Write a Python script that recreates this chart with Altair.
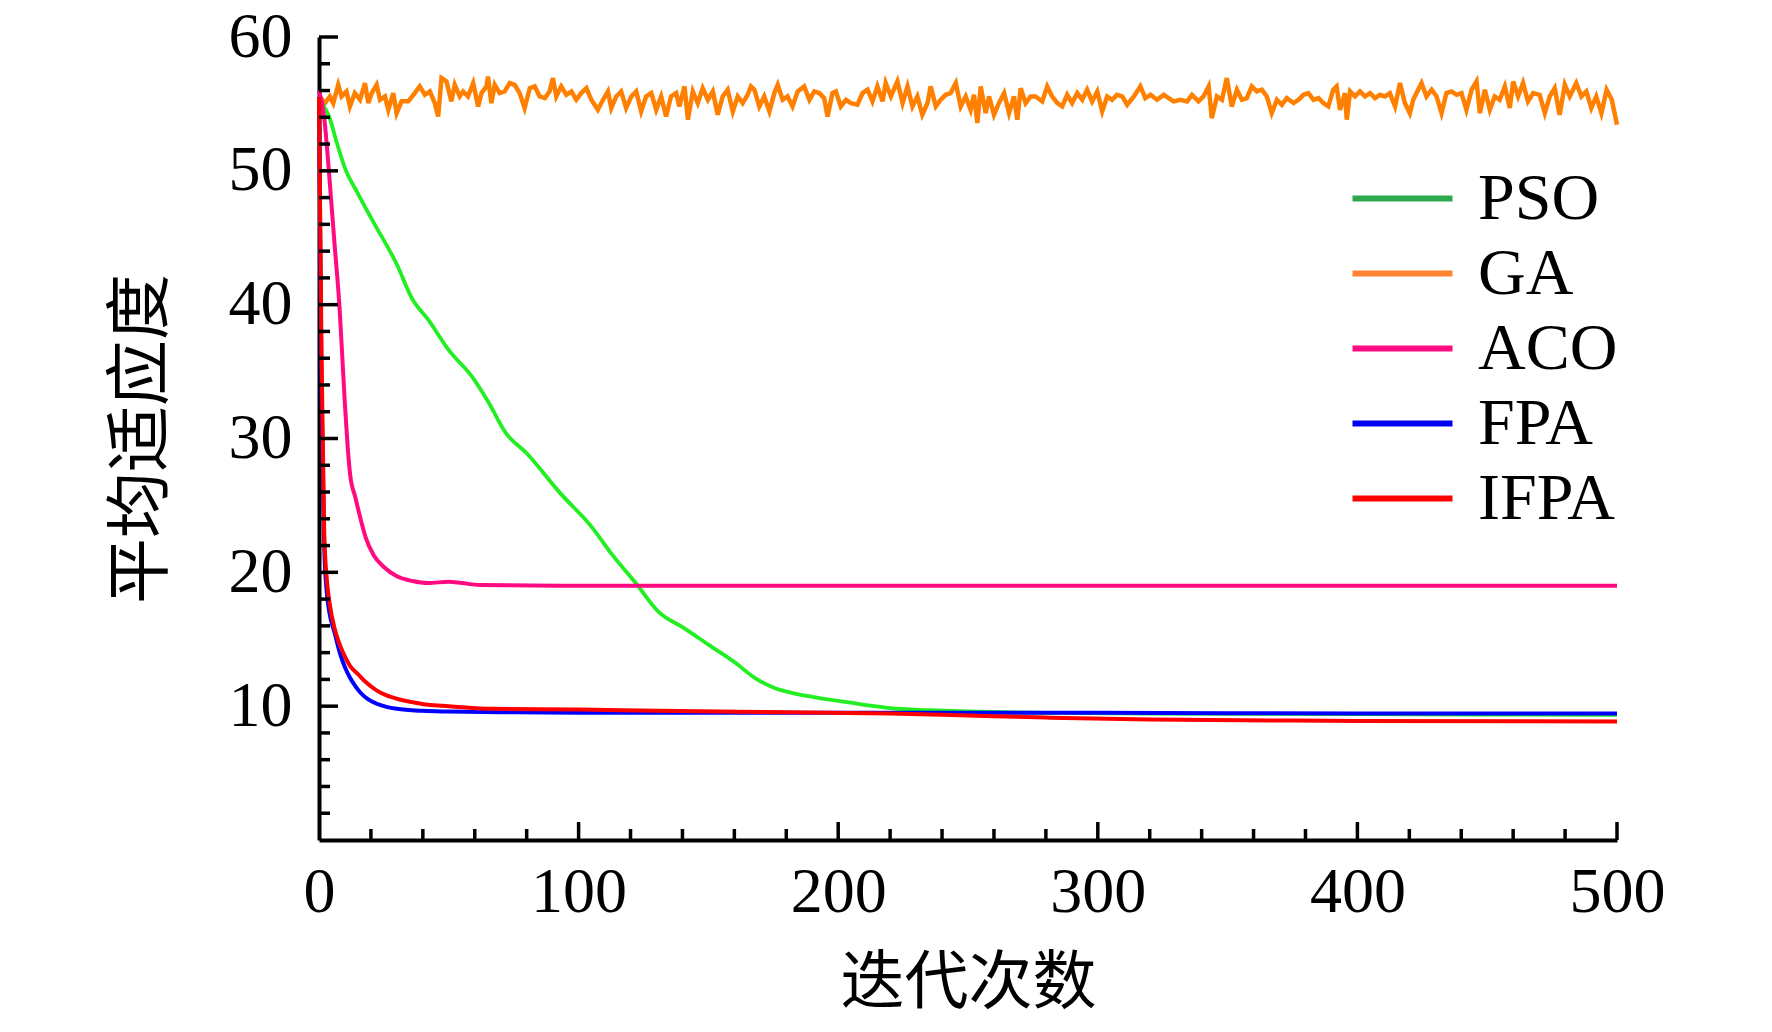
import altair as alt
import pandas as pd

# ---------------- data ----------------
series_names = ["PSO", "GA", "ACO", "FPA", "IFPA"]
line_colors = ["#22ee22", "#ff8000", "#ff0a80", "#0000ff", "#ff0000"]
legend_colors = ["#2ca94a", "#ff8431", "#ff0a80", "#0000f0", "#ff0000"]

pso_x = [0, 2, 4, 7, 10, 15, 20, 30, 36, 42, 50, 59, 65, 72, 80, 93, 105, 113, 122, 131,
         140, 150, 160, 168, 175, 182, 190, 200, 210, 220, 235, 250, 280, 320, 400, 500]
pso_y = [55.5, 54.8, 54.0, 52.0, 50.2, 48.3, 46.5, 43.0, 40.4, 38.9, 36.6, 34.6, 32.8, 30.4,
         28.9, 25.9, 23.4, 21.3, 19.2, 17.0, 15.9, 14.6, 13.3, 12.1, 11.4, 11.0, 10.7, 10.4,
         10.1, 9.85, 9.7, 9.6, 9.5, 9.45, 9.4, 9.35]

aco_x = [0, 2, 4, 6, 8, 9, 10, 11, 12, 14, 16, 18, 21, 25, 30, 36, 42, 50, 55, 62, 100,
         200, 300, 400, 500]
aco_y = [56.0, 54.0, 49.5, 44.5, 39.5, 36.0, 32.5, 29.5, 27.3, 25.6, 24.0, 22.6, 21.3, 20.4,
         19.7, 19.35, 19.2, 19.3, 19.2, 19.05, 19.0, 19.0, 19.0, 19.0, 19.0]

fpa_x = [0, 1, 2, 3, 4, 6, 8, 10, 12, 14, 16, 19, 22, 26, 30, 40, 50, 70, 100, 200, 300,
         400, 500]
fpa_y = [55.5, 33.0, 22.0, 18.5, 17.0, 15.5, 14.0, 12.9, 12.1, 11.5, 11.0, 10.5, 10.2, 9.95,
         9.8, 9.65, 9.6, 9.55, 9.5, 9.5, 9.5, 9.45, 9.45]

ifpa_x = [0, 1, 2, 3, 4, 6, 8, 10, 12, 15, 18, 22, 26, 31, 36, 42, 50, 67, 100, 131, 180,
          220, 250, 280, 320, 400, 500]
ifpa_y = [55.5, 36.0, 23.0, 19.5, 17.8, 15.8, 14.6, 13.7, 13.0, 12.4, 11.8, 11.2, 10.8,
          10.5, 10.3, 10.1, 10.0, 9.8, 9.75, 9.65, 9.55, 9.45, 9.3, 9.15, 9.0, 8.9, 8.85]

ga_x = [0, 2.3, 4.2, 5.5, 7.4, 8.7, 10.6, 11.9, 13.8, 15.8, 17.7, 19.0, 20.3, 22.2, 23.5,
        25.4, 26.7, 28.6, 29.9, 31.8, 34.4, 36.9, 38.8, 40.8, 42.7, 44.6, 45.9, 47.2, 49.1,
        51.0, 52.3, 54.2, 55.5, 57.4, 59.4, 61.3, 62.6, 64.5, 65.1, 66.4, 67.7, 69.6, 71.5,
        73.5, 75.4, 77.3, 79.2, 81.2, 83.1, 85.0, 87.0, 88.8, 90.1, 91.4, 93.3, 95.3, 97.2,
        99.1, 101.0, 103.0, 104.9, 107.4, 109.4, 111.3, 112.6, 114.5, 116.4, 118.3, 120.3,
        122.2, 124.1, 126.0, 128.0, 129.9, 131.8, 133.7, 135.6, 137.6, 138.8, 140.8, 142.1,
        144.0, 145.9, 147.8, 149.8, 151.7, 153.6, 155.5, 157.4, 159.4, 161.3, 163.2, 165.1,
        166.4,
        167.7, 169.6, 171.5, 173.5, 175.4, 176.7, 178.6, 180.5, 182.4, 184.4, 186.9, 188.9,
        190.8, 192.7, 194.6, 195.9, 197.8, 199.1, 201.0, 203.0, 204.9, 207.4, 209.4, 211.3,
        213.2, 215.1, 217.1, 218.3, 220.3, 222.8, 224.8, 226.7, 228.6, 230.5, 232.4, 234.4,
        235.6, 237.6, 239.5, 241.4, 243.3, 245.3, 247.2, 249.1, 251.0, 252.3, 253.6, 254.9,
        256.8, 258.1, 260.0, 261.9, 263.9, 265.8, 267.7, 269.0, 270.3, 272.2, 274.1, 276.0,
        278.6, 280.5, 282.4, 284.4, 286.3, 288.2, 290.1, 292.1, 294.0, 295.9, 297.8, 299.8,
        301.7, 303.6, 305.5, 307.4, 309.4, 311.3, 313.9, 316.4, 318.3, 320.3, 322.8, 325.4,
        327.3, 329.2, 331.8, 334.4, 336.3,
        338.8, 340.7, 342.7, 343.9, 345.9, 347.8, 349.7, 351.6, 353.6, 355.5, 357.4, 359.3,
        361.3, 363.2, 365.1, 367.0, 369.0, 370.9, 372.8, 375.4, 377.3, 379.2, 381.1, 383.1,
        385.0, 386.9, 388.8, 390.7, 392.0, 393.3, 395.2, 395.9, 397.2, 399.1, 401.0, 402.9,
        404.9, 406.8, 408.7, 410.6, 412.5, 414.5, 416.4, 418.3, 420.2, 421.5, 423.4, 424.7,
        426.6, 428.6, 430.5, 432.4, 434.3, 436.3, 438.2, 440.1, 442.0, 444.0, 445.9, 447.2,
        449.1, 451.0, 452.9, 454.8, 456.8, 458.7, 460.0, 461.9, 463.8, 465.7, 467.7, 470.2,
        472.2, 474.1, 476.0, 477.9, 479.9, 481.8, 484.3, 486.3, 488.2, 490.1, 492.0, 494.0,
        496.0, 498.0, 500.0]
ga_y = [55.6, 55.06, 55.56, 55.06, 56.43, 55.56, 55.93, 54.81, 55.81, 55.31, 56.56, 55.06,
        55.81, 56.43, 55.31, 55.56, 54.56, 55.81, 54.31, 55.19, 55.19, 55.81, 56.31, 55.68,
        55.93, 55.06, 54.06, 56.93, 56.68, 55.19, 56.43, 55.56, 55.93, 55.56, 56.56, 54.81,
        55.81, 56.31, 57.05, 55.06, 56.43, 55.81, 55.93, 56.56, 56.43, 55.81, 54.69, 56.18,
        56.31, 55.56, 55.43, 55.93, 56.93, 55.56, 56.31, 55.68, 55.93, 55.31, 55.81, 56.18,
        55.31, 54.56, 55.31, 55.93, 54.69, 55.56, 55.93, 54.69, 55.56, 55.93, 54.44, 55.56,
        55.81, 54.56, 55.56, 54.06, 55.56, 55.81, 54.81, 56.31, 53.82, 55.93, 55.06, 56.18,
        55.31, 55.93, 54.19, 55.56, 56.06, 54.44, 55.56, 55.06, 55.68, 56.31,
        56.06, 54.81, 55.56, 54.44, 55.81, 56.43, 55.31, 55.56, 54.81, 55.93, 56.31, 55.31,
        55.93, 55.81, 55.43, 54.06, 55.81, 55.93, 54.81, 55.31, 55.06, 54.94, 55.81, 56.06,
        55.19, 56.31, 55.19, 56.56, 55.56, 56.68, 55.06, 56.31, 54.81, 55.56, 54.19, 55.06,
        56.31, 54.81, 55.31, 55.68, 55.81, 56.56, 54.81, 55.56, 54.56, 55.68, 53.57, 56.31,
        54.31, 55.56, 54.19, 55.06, 55.81, 54.31, 55.56, 53.82, 56.18, 55.06, 55.56, 55.56,
        55.19, 56.31, 55.56, 55.06, 54.81, 55.68, 55.06, 55.81, 55.31, 56.06, 55.19, 55.93,
        54.44, 55.56, 55.31, 55.68, 55.56, 54.94, 55.56, 56.31, 55.43, 55.68, 55.31, 55.68,
        55.43, 55.19, 55.31, 55.19, 55.68,
        55.19, 55.56, 56.31, 53.94, 55.56, 55.31, 56.93, 54.81, 56.06, 55.31, 55.43, 56.31,
        55.93, 56.06, 55.56, 54.31, 55.31, 54.94, 55.43, 55.06, 55.31, 55.68, 55.81, 55.31,
        55.43, 55.06, 54.81, 56.06, 56.31, 54.56, 55.81, 53.82, 55.93, 55.56, 55.93, 55.56,
        55.81, 55.43, 55.68, 55.56, 55.81, 54.81, 56.56, 55.06, 54.31, 55.31, 56.06, 56.56,
        55.56, 56.06, 55.56, 54.31, 55.81, 55.93, 55.68, 55.81, 54.56, 56.06, 56.68, 54.31,
        56.06, 54.56, 55.56, 55.31, 56.31, 54.69, 56.68, 55.56, 56.56, 55.19, 55.81, 55.68,
        54.31, 55.56, 56.18, 54.19, 56.43, 55.56, 56.56, 55.56, 55.93, 54.69, 55.56, 54.31,
        56.06, 55.31, 53.44]

x_major_ticks = [100, 200, 300, 400, 500]
x_minor_ticks = [20, 40, 60, 80, 120, 140, 160, 180, 220, 240, 260, 280,
                 320, 340, 360, 380, 420, 440, 460, 480]
y_major_ticks = [10, 20, 30, 40, 50, 60]
y_minor_ticks = [2, 4, 6, 8, 12, 14, 16, 18, 22, 24, 26, 28, 32, 34, 36, 38,
                 42, 44, 46, 48, 52, 54, 56, 58]
x_labels = [0, 100, 200, 300, 400, 500]
y_labels = [10, 20, 30, 40, 50, 60]

# ---------------- tables ----------------
series_xy = {
    "PSO": (pso_x, pso_y),
    "GA": (ga_x, ga_y),
    "ACO": (aco_x, aco_y),
    "FPA": (fpa_x, fpa_y),
    "IFPA": (ifpa_x, ifpa_y),
}
frames = {}
for name, (xs, ys) in series_xy.items():
    frames[name] = pd.DataFrame({"iter": xs, "fit": ys, "alg": name})
all_df = pd.concat(frames.values(), ignore_index=True)

W, H = 1298, 803
SERIF = "Liberation Serif"
CJK = "Noto Sans CJK SC"

x_scale = alt.Scale(domain=[0, 500], nice=False, zero=False)
y_scale = alt.Scale(domain=[0, 60], nice=False, zero=False)

x_axis = alt.Axis(values=x_labels, title="迭代次数", grid=False, ticks=False,
                  domainColor="black", domainWidth=4, labelFont=SERIF, labelFontSize=64,
                  labelColor="black", labelPadding=20, labelFlush=False,
                  titleFont=CJK, titleFontSize=64, titleFontWeight="normal",
                  titleColor="black", titleX=W / 2, titleY=143, titleBaseline="middle",
                  titleAlign="center")
y_axis = alt.Axis(values=y_labels, title="平均适应度", grid=False, ticks=False,
                  domainColor="black", domainWidth=4, labelFont=SERIF, labelFontSize=64,
                  labelColor="black", labelPadding=27, labelFlush=False,
                  titleFont=CJK, titleFontSize=66, titleFontWeight="normal",
                  titleColor="black", titleAngle=270, titleX=-178, titleY=H / 2,
                  titleBaseline="middle", titleAlign="center")


def X(field):
    return alt.X(field, scale=x_scale, axis=x_axis)


def Y(field):
    return alt.Y(field, scale=y_scale, axis=y_axis)


order = ["GA", "PSO", "ACO", "FPA", "IFPA"]
widths = {"GA": 4.5, "PSO": 3.8, "ACO": 4, "FPA": 4, "IFPA": 4}
layers = []
for name in order:
    c = line_colors[series_names.index(name)]
    interp = "linear" if name == "GA" else "monotone"
    layers.append(
        alt.Chart(frames[name]).mark_line(color=c, strokeWidth=widths[name],
                                          interpolate=interp).encode(
            x=X("iter:Q"), y=Y("fit:Q"), order=alt.Order("iter:Q"))
    )

# legend layer (invisible lines, visible legend)
legend_layer = alt.Chart(all_df).mark_line(opacity=0).encode(
    x=X("iter:Q"),
    y=Y("fit:Q"),
    color=alt.Color("alg:N",
                    scale=alt.Scale(domain=series_names, range=legend_colors),
                    sort=series_names,
                    legend=alt.Legend(title=None, orient="none", legendX=1047,
                                      legendY=125, symbolType="M-1.5,0H1.5",
                                      symbolSize=4444, symbolStrokeWidth=6,
                                      symbolOpacity=1, labelFont=SERIF,
                                      labelFontSize=66, labelColor="black",
                                      labelOffset=39, rowPadding=5, padding=0,
                                      labelLimit=400)),
)

# inward tick marks
x_ticks_major = alt.Chart(pd.DataFrame({"iter": x_major_ticks})).mark_rule(
    color="black", strokeWidth=3.5).encode(
    x=X("iter:Q"), y=alt.value(H), y2=alt.value(H - 18))
x_ticks_minor = alt.Chart(pd.DataFrame({"iter": x_minor_ticks})).mark_rule(
    color="black", strokeWidth=3.5).encode(
    x=X("iter:Q"), y=alt.value(H), y2=alt.value(H - 11))
y_ticks_major = alt.Chart(pd.DataFrame({"fit": y_major_ticks})).mark_rule(
    color="black", strokeWidth=3.5).encode(
    y=Y("fit:Q"), x=alt.value(0), x2=alt.value(19))
y_ticks_minor = alt.Chart(pd.DataFrame({"fit": y_minor_ticks})).mark_rule(
    color="black", strokeWidth=3.5).encode(
    y=Y("fit:Q"), x=alt.value(0), x2=alt.value(11))

chart = alt.layer(
    *layers, legend_layer, x_ticks_major, x_ticks_minor, y_ticks_major, y_ticks_minor
).resolve_scale(color="independent").properties(
    width=W, height=H,
    autosize=alt.AutoSizeParams(type="none"),
    padding={"left": 311, "top": 29, "right": 140, "bottom": 184},
    background="white",
).configure_view(stroke=None)

chart.save("out.html", embed_options={"renderer": "svg", "actions": False})
